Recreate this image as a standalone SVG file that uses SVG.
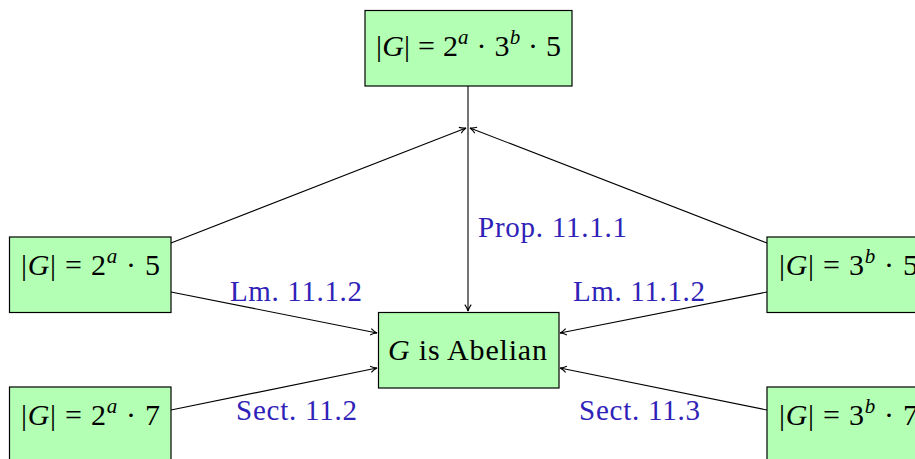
<svg xmlns="http://www.w3.org/2000/svg" width="915" height="459" viewBox="0 0 915 459">
<style>
.box{fill:#b3ffb3;stroke:#000;stroke-width:1.2}
.t{font-family:"Liberation Serif","DejaVu Serif",serif;font-size:30px;fill:#000}
.i{font-style:italic}
.sup{font-size:21px;font-style:italic}
.lbl{font-family:"Liberation Serif","DejaVu Serif",serif;font-size:29px;fill:#2f22b8}
.e{stroke:#000;stroke-width:1.1;fill:none;marker-end:url(#ah)}
</style>
<defs>
<marker id="ah" viewBox="0 0 10 10" refX="9" refY="5" markerWidth="8" markerHeight="8" markerUnits="userSpaceOnUse" orient="auto">
<path d="M1,1 Q5,4 9,5 Q5,6 1,9" fill="none" stroke="#000" stroke-width="1.4"/>
</marker>
</defs>
<rect width="915" height="459" fill="#fff"/>
<g id="connectors">
<line class="e" x1="468" y1="86" x2="468" y2="311"/>
<line class="e" x1="171" y1="243" x2="466" y2="128"/>
<line class="e" x1="767" y1="243" x2="470" y2="128"/>
<line class="e" x1="171" y1="292" x2="377" y2="333"/>
<line class="e" x1="767" y1="292" x2="560" y2="333"/>
<line class="e" x1="171" y1="410" x2="377" y2="368"/>
<line class="e" x1="767" y1="410" x2="560" y2="368"/>
<text class="lbl" x="478" y="237" textLength="149">Prop. 11.1.1</text>
<text class="lbl" x="230" y="301" textLength="132">Lm. 11.1.2</text>
<text class="lbl" x="573" y="301" textLength="132">Lm. 11.1.2</text>
<text class="lbl" x="236" y="420" textLength="121">Sect. 11.2</text>
<text class="lbl" x="579" y="420" textLength="121">Sect. 11.3</text>
</g>
<g id="top">
<rect class="box" x="365" y="10.5" width="207" height="75.5"/>
<text class="t" x="376" y="56" textLength="185">|<tspan class="i">G</tspan>| = 2<tspan class="sup" dy="-12">a</tspan><tspan dy="12"> · 3</tspan><tspan class="sup" dy="-12">b</tspan><tspan dy="12"> · 5</tspan></text>
</g>
<g id="l1">
<rect class="box" x="9.5" y="237" width="161.5" height="75.5"/>
<text class="t" x="21" y="275" textLength="139">|<tspan class="i">G</tspan>| = 2<tspan class="sup" dy="-12">a</tspan><tspan dy="12"> · 5</tspan></text>
</g>
<g id="r1">
<rect class="box" x="767" y="237" width="170" height="75.5"/>
<text class="t" x="779" y="275" textLength="139">|<tspan class="i">G</tspan>| = 3<tspan class="sup" dy="-12">b</tspan><tspan dy="12"> · 5</tspan></text>
</g>
<g id="l2">
<rect class="box" x="9.5" y="387" width="161.5" height="80"/>
<text class="t" x="21" y="425" textLength="139">|<tspan class="i">G</tspan>| = 2<tspan class="sup" dy="-12">a</tspan><tspan dy="12"> · 7</tspan></text>
</g>
<g id="r2">
<rect class="box" x="767" y="387" width="170" height="80"/>
<text class="t" x="779" y="425" textLength="139">|<tspan class="i">G</tspan>| = 3<tspan class="sup" dy="-12">b</tspan><tspan dy="12"> · 7</tspan></text>
</g>
<g id="center">
<rect class="box" x="378.5" y="312.5" width="180.5" height="75.5"/>
<text class="t" x="388" y="360" textLength="159"><tspan class="i">G</tspan> is Abelian</text>
</g>
</svg>
